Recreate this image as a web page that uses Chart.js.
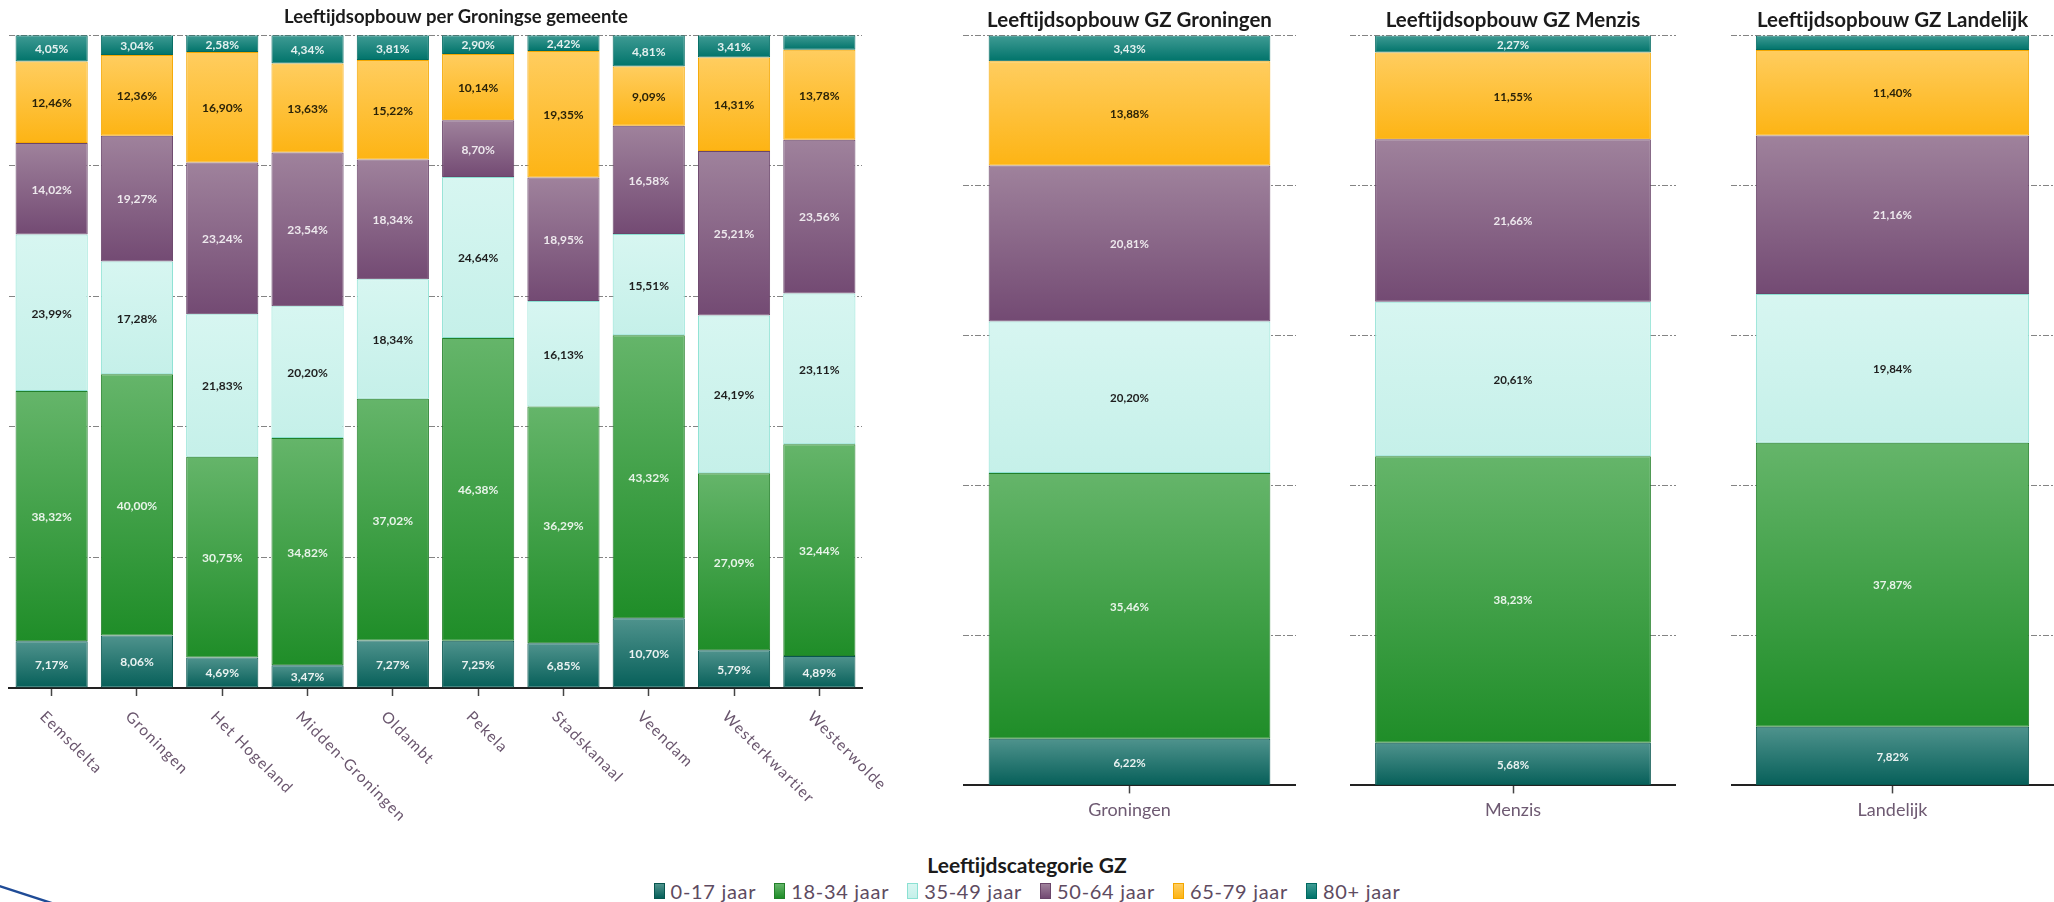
<!DOCTYPE html>
<html>
<head>
<meta charset="utf-8">
<script src="https://cdn.jsdelivr.net/npm/chart.js@4.4.1/dist/chart.umd.min.js"></script>
<style>
  html, body { margin:0; padding:0; background:#ffffff; width:2054px; height:902px; overflow:hidden; position:relative; font-family: Lato, "Open Sans", sans-serif; }
  .box { position:absolute; top:0; height:830px; }
  .box.gz { height:839px; }
  #legend { position:absolute; left:0; width:2054px; top:853px; text-align:center; }
  #legend .ltitle { font: bold 21px Lato, sans-serif; color:#1b1b1b; line-height:24px; }
  #legend .litems { display:flex; justify-content:center; align-items:center; gap:18px; margin-top:3px; line-height:22px; }
  #legend .item { display:flex; align-items:center; font-size:20px; color:#5e4b61; letter-spacing:0.7px; }
  #legend .sw { display:inline-block; width:11px; height:16px; margin-right:6px; box-sizing:border-box; }
  #deco { position:absolute; left:0; top:860px; }
</style>
</head>
<body>
<div class="box" style="left:0px; width:912px;"><canvas id="cLeft"></canvas></div>
<div class="box gz" style="left:963px; width:333px;"><canvas id="cGz0"></canvas></div>
<div class="box gz" style="left:1350px; width:326px;"><canvas id="cGz1"></canvas></div>
<div class="box gz" style="left:1731px; width:323px;"><canvas id="cGz2"></canvas></div>
<div id="legend"><div class="ltitle">Leeftijdscategorie GZ</div><div class="litems" id="litems"></div></div>
<svg id="deco" width="120" height="42"><line x1="-4" y1="25" x2="70" y2="49" stroke="#1f4b96" stroke-width="2.4"/></svg>

<script>
// ---------------- DATA ----------------
const gemeenten = ['Eemsdelta','Groningen','Het Hogeland','Midden-Groningen','Oldambt','Pekela','Stadskanaal','Veendam','Westerkwartier','Westerwolde'];
const ageGroups = ['0-17 jaar','18-34 jaar','35-49 jaar','50-64 jaar','65-79 jaar','80+ jaar'];

const age0_17   = [7.17, 8.06, 4.69, 3.47, 7.27, 7.25, 6.85, 10.70, 5.79, 4.89];
const age18_34  = [38.32, 40.00, 30.75, 34.82, 37.02, 46.38, 36.29, 43.32, 27.09, 32.44];
const age35_49  = [23.99, 17.28, 21.83, 20.20, 18.34, 24.64, 16.13, 15.51, 24.19, 23.11];
const age50_64  = [14.02, 19.27, 23.24, 23.54, 18.34, 8.70, 18.95, 16.58, 25.21, 23.56];
const age65_79  = [12.46, 12.36, 16.90, 13.63, 15.22, 10.14, 19.35, 9.09, 14.31, 13.78];
const age80plus = [4.05, 3.04, 2.58, 4.34, 3.81, 2.90, 2.42, 4.81, 3.41, 2.22];

const gzRegions = ['Groningen','Menzis','Landelijk'];
const gz0_17   = [6.22, 5.68, 7.82];
const gz18_34  = [35.46, 38.23, 37.87];
const gz35_49  = [20.20, 20.61, 19.84];
const gz50_64  = [20.81, 21.66, 21.16];
const gz65_79  = [13.88, 11.55, 11.40];
const gz80plus = [3.43, 2.27, 1.91];

const yTicks = [0, 20, 40, 60, 80, 100];
const labelMinValue = 2.25;

const leftTitle = 'Leeftijdsopbouw per Groningse gemeente';
const gzTitles = ['Leeftijdsopbouw GZ Groningen','Leeftijdsopbouw GZ Menzis','Leeftijdsopbouw GZ Landelijk'];

// ---------------- STYLES ----------------
const seriesStyles = [
  { top:'#4f938d', bottom:'#065f59', border:'#08564f', label:'rgba(255,255,255,0.9)' },
  { top:'#65b56a', bottom:'#1f8d28', border:'#23802a', label:'rgba(255,255,255,0.88)' },
  { top:'#d7f6f1', bottom:'#c5f0e9', border:'#8be1d3', label:'#1e1e1e' },
  { top:'#9f829c', bottom:'#734a73', border:'#6a456a', label:'rgba(255,255,255,0.85)' },
  { top:'#ffcd5f', bottom:'#fdb414', border:'#f4a700', label:'#2a2208' },
  { top:'#3f9b94', bottom:'#00736a', border:'#006a61', label:'rgba(255,255,255,0.88)' }
];

function gradientBg(col) {
  return (ctx) => {
    const chart = ctx.chart;
    if (!chart.chartArea || ctx.type !== 'data' || !chart.scales.y) return col.bottom;
    const ys = chart.scales.y;
    let start = 0;
    for (let d = 0; d < ctx.datasetIndex; d++) start += chart.data.datasets[d].data[ctx.dataIndex];
    const end = start + chart.data.datasets[ctx.datasetIndex].data[ctx.dataIndex];
    const top = ys.getPixelForValue(end), bot = ys.getPixelForValue(start);
    if (!isFinite(top) || !isFinite(bot) || Math.abs(top - bot) < 0.5) return col.bottom;
    const g = chart.ctx.createLinearGradient(0, top, 0, bot);
    g.addColorStop(0, col.top);
    g.addColorStop(1, col.bottom);
    return g;
  };
}

function fmtPct(v) { return v.toFixed(2).replace('.', ',') + '%'; }

const valueLabels = {
  id: 'valueLabels',
  afterDraw(chart, args, opts) {
    const ctx = chart.ctx;
    ctx.save();
    ctx.font = opts.font;
    ctx.textAlign = 'center';
    ctx.textBaseline = 'middle';
    chart.data.datasets.forEach((ds, di) => {
      const meta = chart.getDatasetMeta(di);
      meta.data.forEach((bar, i) => {
        const v = ds.data[i];
        if (v < labelMinValue) return;
        ctx.fillStyle = seriesStyles[di].label;
        ctx.fillText(fmtPct(v), bar.x, (bar.y + bar.base) / 2 + 1);
      });
    });
    ctx.restore();
  }
};

const rotatedTicks = {
  id: 'rotatedTicks',
  afterDraw(chart, args, opts) {
    if (!opts || !opts.enabled) return;
    const xs = chart.scales.x;
    const ctx = chart.ctx;
    ctx.save();
    ctx.font = '15.5px Lato';
    ctx.fillStyle = '#6a566e';
    try { ctx.letterSpacing = '1.2px'; } catch (e) {}
    chart.data.labels.forEach((lab, i) => {
      const x = xs.getPixelForTick(i);
      ctx.save();
      ctx.translate(x - 9, xs.top + 26);
      ctx.rotate(Math.PI / 4);
      ctx.textAlign = 'left';
      ctx.textBaseline = 'middle';
      ctx.fillText(lab, 0, 0);
      ctx.restore();
    });
    ctx.restore();
  }
};

function makeDatasets(seriesList, idx) {
  return seriesList.map((arr, si) => ({
    label: ageGroups[si],
    data: idx === undefined ? arr.slice() : [arr[idx]],
    backgroundColor: gradientBg(seriesStyles[si]),
    borderColor: seriesStyles[si].border,
    borderWidth: 1,
    borderSkipped: false,
    barPercentage: 0.846,
    categoryPercentage: 1
  }));
}

function yScale(fitWidth) {
  const s = {
    stacked: true, min: 0, max: 100, z: 1,
    afterBuildTicks: sc => { sc.ticks = yTicks.map(v => ({ value: v })); },
    ticks: { display: false },
    grid: { color: 'rgba(50,50,50,0.6)', lineWidth: 1, drawTicks: false },
    border: { display: false, dash: [6, 2, 2, 2] }
  };
  if (fitWidth !== undefined) s.afterFit = sc => { sc.width = fitWidth; };
  return s;
}

Chart.defaults.font.family = 'Lato';

// ---------------- LEFT CHART ----------------
new Chart(document.getElementById('cLeft'), {
  type: 'bar',
  data: { labels: gemeenten, datasets: makeDatasets([age0_17, age18_34, age35_49, age50_64, age65_79, age80plus]) },
  plugins: [valueLabels, rotatedTicks],
  options: {
    responsive: true, maintainAspectRatio: false, animation: false,
    layout: { padding: { left: 0, right: 0, top: 0, bottom: 134 } },
    plugins: {
      legend: { display: false }, tooltip: { enabled: false },
      title: { display: true, text: leftTitle, font: { family: 'Lato', size: 18.5, weight: 'bold' }, color: '#1b1b1b', padding: { top: 6, bottom: 7 } },
      valueLabels: { font: 'bold 12px Lato' },
      rotatedTicks: { enabled: true }
    },
    scales: {
      x: {
        stacked: true, z: 2,
        grid: { display: true, drawOnChartArea: false, drawTicks: true, tickLength: 8, tickColor: '#444', tickWidth: 1.5, offset: false },
        border: { display: true, color: '#222', width: 2 },
        ticks: { display: false }
      },
      y: yScale(9),
      yRight: {
        position: 'right', display: true,
        grid: { display: false }, border: { display: false }, ticks: { display: false },
        afterFit: sc => { sc.width = 50; }
      }
    }
  }
});

// ---------------- GZ CHARTS ----------------
const gzSeries = [gz0_17, gz18_34, gz35_49, gz50_64, gz65_79, gz80plus];
gzRegions.forEach((region, k) => {
  new Chart(document.getElementById('cGz' + k), {
    type: 'bar',
    data: { labels: [region], datasets: makeDatasets(gzSeries, k) },
    plugins: [valueLabels],
    options: {
      responsive: true, maintainAspectRatio: false, animation: false,
      layout: { padding: { left: 0, right: 0, top: 0, bottom: 12 } },
      plugins: {
        legend: { display: false }, tooltip: { enabled: false },
        title: { display: true, text: gzTitles[k], font: { family: 'Lato', size: 20.5, weight: 'bold' }, color: '#1b1b1b', padding: { top: 8, bottom: 3 } },
        valueLabels: { font: 'bold 11.5px Lato' }
      },
      scales: {
        x: {
          stacked: true, z: 2,
          grid: { display: true, drawOnChartArea: false, drawTicks: true, tickLength: 8, tickColor: '#444', tickWidth: 1.5, offset: false },
          border: { display: true, color: '#222', width: 2 },
          ticks: { font: { family: 'Lato', size: 18 }, color: '#6e5a72', padding: 6, maxRotation: 0 }
        },
        y: yScale()
      }
    }
  });
});

// ---------------- LEGEND ----------------
const litems = document.getElementById('litems');
ageGroups.forEach((g, i) => {
  const it = document.createElement('div');
  it.className = 'item';
  const sw = document.createElement('span');
  sw.className = 'sw';
  sw.style.background = 'linear-gradient(' + seriesStyles[i].top + ',' + seriesStyles[i].bottom + ')';
  sw.style.border = '1px solid ' + seriesStyles[i].border;
  const tx = document.createElement('span');
  tx.textContent = g;
  it.appendChild(sw); it.appendChild(tx);
  litems.appendChild(it);
});
</script>
</body>
</html>
